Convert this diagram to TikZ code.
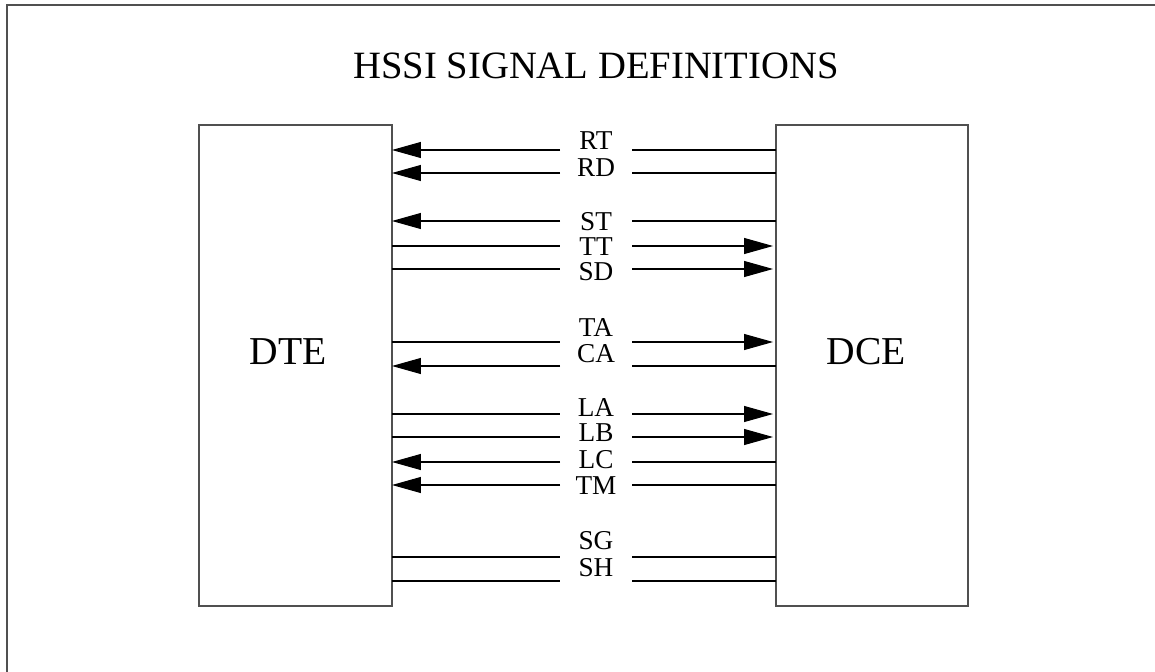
\documentclass[tikz,border=0pt]{standalone}
\usepackage{fontspec}
\setmainfont{Liberation Serif}
\usetikzlibrary{arrows.meta, positioning}
\definecolor{framegray}{HTML}{505050}

\tikzset{
  unitbox/.style={draw=framegray, line width=1.1pt, minimum width=3.86cm, minimum height=9.62cm, inner sep=0pt, outer sep=0pt},
  unitname/.style={font=\fontsize{22.5}{26}\selectfont, inner sep=0pt},
  sigline/.style={line width=0.6pt},
  sigarrow/.style={sigline, -{Triangle[length=0.58cm, width=0.32cm]}},
  siglabel/.style={font=\fontsize{15.5}{18}\selectfont, anchor=base, inner sep=0pt},
}

\begin{document}
\begin{tikzpicture}[x=0.02cm, y=-0.02cm]
  \useasboundingbox (0,0) rectangle (1155,672);
  % 1. Frame and title
  \draw[framegray, line width=1.1pt] (7,672) -- (7,5) -- (1155,5);
  \node[font=\fontsize{22}{26}\selectfont, inner sep=0pt] (title) at (596,66) {HSSI SIGNAL DEFINITIONS};

  % 2. Units
  \node[unitbox] (dte) at (295.5,365.5) {};
  \node[unitbox, minimum width=3.84cm] (dce) at (872,365.5) {};
  \node[unitname] (dtename) at (288,352) {DTE};
  \node[unitname] (dcename) at (866.5,352) {DCE};

  % 3. Signals: name / line y / label y / direction (0 = to DTE, 1 = to DCE, 2 = none)
  \foreach \sig/\ly/\ty/\dir in {RT/150/141/0, RD/173/167/0, ST/221/221/0, TT/246/246/1,
      SD/269/271/1, TA/342/327/1, CA/366/353/0, LA/414/407/1, LB/437/432/1,
      LC/462/459/0, TM/485/485/0, SG/557/540/2, SH/581/567/2} {
    \node[siglabel] (\sig) at (596,\ty+9) {\sig};
    \coordinate (\sig-w) at (560,\ly);
    \coordinate (\sig-e) at (632,\ly);
    \ifnum\dir=0
      \draw[sigarrow] (\sig-w) -- (dte.east |- \sig-w);
    \else
      \draw[sigline] (dte.east |- \sig-w) -- (\sig-w);
    \fi
    \ifnum\dir=1
      \draw[sigarrow, shorten >=1.7pt] (\sig-e) -- (dce.west |- \sig-e);
    \else
      \draw[sigline] (\sig-e) -- (dce.west |- \sig-e);
    \fi
  }
\end{tikzpicture}
\end{document}
